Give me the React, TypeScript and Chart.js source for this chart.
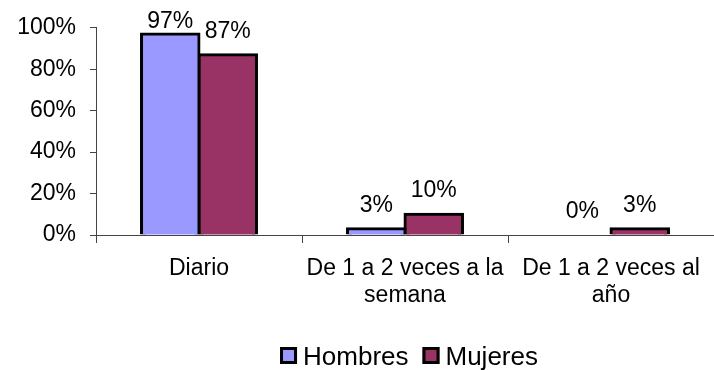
import React, { useEffect, useRef } from "react";
import { Chart, registerables } from "chart.js";

Chart.register(...registerables);

const categories: string[][] = [
  ["Diario"],
  ["De 1 a 2 veces a la", "semana"],
  ["De 1 a 2 veces al", "año"],
];
const seriesNames = ["Hombres", "Mujeres"];
const hombres = [97, 3, 0];
const mujeres = [87, 10, 3];
const seriesColors = ["#9999FF", "#993366"];
const yMax = 100;
const yStep = 20;

const FONT = "'Liberation Sans', Arial, Helvetica, sans-serif";
const AXIS_COLOR = "#444";

// Percentage labels above every bar
const valueLabels = {
  id: "valueLabels",
  afterDatasetsDraw(chart: any) {
    const ctx = chart.ctx;
    ctx.save();
    ctx.font = `23px ${FONT}`;
    ctx.fillStyle = "#000";
    ctx.textAlign = "center";
    ctx.textBaseline = "alphabetic";
    chart.data.datasets.forEach((ds: any, i: number) => {
      const meta = chart.getDatasetMeta(i);
      meta.data.forEach((bar: any, j: number) => {
        const y = Math.max(bar.y - 17, 28);
        ctx.fillText(`${ds.data[j]}%`, bar.x, y);
      });
    });
    ctx.restore();
  },
};

// Legend row under the category labels
const bottomLegend = {
  id: "bottomLegend",
  afterDraw(chart: any) {
    const ctx = chart.ctx;
    const area = chart.chartArea;
    const box = 17;
    const gapText = 6;
    const gapItem = 14;
    ctx.save();
    ctx.font = `26px ${FONT}`;
    const items = chart.data.datasets.map((ds: any) => ({
      label: ds.label,
      color: ds.backgroundColor,
      w: ctx.measureText(ds.label).width,
    }));
    const total =
      items.reduce((s: number, it: any) => s + box + gapText + it.w, 0) +
      gapItem * (items.length - 1);
    let x = (area.left + area.right) / 2 + 4 - total / 2;
    const baseline = 365;
    items.forEach((it: any) => {
      ctx.fillStyle = it.color;
      ctx.fillRect(x, 347, box, box);
      ctx.strokeStyle = "#000";
      ctx.lineWidth = 3;
      ctx.strokeRect(x + 1.5, 348.5, box - 3, box - 3);
      ctx.fillStyle = "#000";
      ctx.textAlign = "left";
      ctx.textBaseline = "alphabetic";
      ctx.fillText(it.label, x + box + gapText, baseline);
      x += box + gapText + it.w + gapItem;
    });
    ctx.restore();
  },
};

export default function App() {
  const canvasRef = useRef<HTMLCanvasElement | null>(null);

  useEffect(() => {
    if (!canvasRef.current) return;
    const values = [hombres, mujeres];
    const chart = new Chart(canvasRef.current, {
      type: "bar",
      data: {
        labels: categories,
        datasets: seriesNames.map((name, i) => ({
          label: name,
          data: values[i],
          backgroundColor: seriesColors[i],
          borderColor: "#000",
          borderWidth: 3,
          borderSkipped: "start",
          inflateAmount: 1.5,
          barPercentage: 1,
          categoryPercentage: 0.558,
        })),
      },
      options: {
        responsive: false,
        animation: false,
        devicePixelRatio: 1,
        layout: { padding: { top: 26, right: 0, bottom: 0, left: 0 } },
        plugins: {
          legend: { display: false },
          tooltip: { enabled: false },
          title: { display: false },
        },
        scales: {
          x: {
            offset: true,
            grid: {
              display: true,
              offset: true,
              drawOnChartArea: false,
              drawTicks: true,
              tickLength: 8,
              color: AXIS_COLOR,
            },
            border: { display: true, color: AXIS_COLOR, z: 1 },
            ticks: {
              color: "#000",
              padding: 12,
              maxRotation: 0,
              autoSkip: false,
              font: { family: FONT, size: 23, lineHeight: 1.17 },
            },
            afterFit(scale: any) {
              scale.height = 135;
            },
          },
          y: {
            min: 0,
            max: yMax,
            grid: {
              display: true,
              drawOnChartArea: false,
              drawTicks: true,
              tickLength: 6,
              color: AXIS_COLOR,
            },
            border: { display: true, color: AXIS_COLOR },
            ticks: {
              stepSize: yStep,
              color: "#000",
              padding: 14,
              font: { family: FONT, size: 23 },
              callback: (v: any) => `${v}%`,
            },
            afterFit(scale: any) {
              scale.width = 96;
            },
          },
        },
      },
      plugins: [valueLabels, bottomLegend],
    });
    return () => chart.destroy();
  }, []);

  return (
    <div
      style={{
        position: "fixed",
        left: 0,
        top: 0,
        width: 714,
        height: 370,
        background: "#fff",
      }}
    >
      <canvas
        ref={canvasRef}
        width={714}
        height={370}
        style={{ width: 714, height: 370, display: "block" }}
      />
    </div>
  );
}
